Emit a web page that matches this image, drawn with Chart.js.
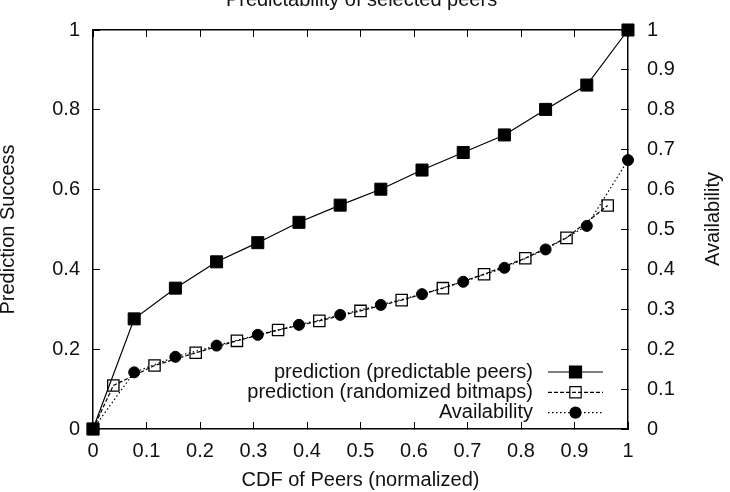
<!DOCTYPE html>
<html>
<head>
<meta charset="utf-8">
<title>Predictability of selected peers</title>
<script src="https://cdn.jsdelivr.net/npm/chart.js"></script>
<style>
  html, body { margin: 0; padding: 0; background: #fff; }
  #wrap { width: 730px; height: 492px; }
</style>
</head>
<body>
<div id="wrap"><canvas id="peersChart" width="730" height="492"></canvas></div>
<script>
// data
const peerCdf = [0, 0.077, 0.154, 0.231, 0.308, 0.385, 0.462, 0.538, 0.615, 0.692, 0.769, 0.846, 0.923, 1];
const predictableSuccess = [0, 0.276, 0.353, 0.419, 0.467, 0.518, 0.561, 0.601, 0.649, 0.693, 0.737, 0.801, 0.862, 1];
const randomizedCdf = [0, 0.038, 0.115, 0.192, 0.269, 0.346, 0.423, 0.5, 0.577, 0.654, 0.731, 0.808, 0.885, 0.962];
const randomizedSuccess = [0, 0.109, 0.159, 0.191, 0.221, 0.248, 0.271, 0.296, 0.323, 0.353, 0.388, 0.428, 0.479, 0.560];
const availability = [0, 0.142, 0.181, 0.209, 0.236, 0.261, 0.286, 0.311, 0.338, 0.369, 0.404, 0.450, 0.509, 0.674];

const seriesNames = ['prediction (predictable peers)', 'prediction (randomized bitmaps)', 'Availability'];

const xTicks = [0, 0.1, 0.2, 0.3, 0.4, 0.5, 0.6, 0.7, 0.8, 0.9, 1];
const xTickLabels = ['0', '0.1', '0.2', '0.3', '0.4', '0.5', '0.6', '0.7', '0.8', '0.9', '1'];
const leftTicks = [0, 0.2, 0.4, 0.6, 0.8, 1];
const leftTickLabels = ['0', '0.2', '0.4', '0.6', '0.8', '1'];
const rightTicks = [0, 0.1, 0.2, 0.3, 0.4, 0.5, 0.6, 0.7, 0.8, 0.9, 1];
const rightTickLabels = ['0', '0.1', '0.2', '0.3', '0.4', '0.5', '0.6', '0.7', '0.8', '0.9', '1'];

const chartTitle = 'Predictability of selected peers';
const xTitle = 'CDF of Peers (normalized)';
const leftTitle = 'Prediction Success';
const rightTitle = 'Availability';

const ink = '#111';
const fontFamily = "'Liberation Sans', Arial, Helvetica, sans-serif";
const tickFont = { family: fontFamily, size: 20 };

function toPoints(xs, ys) {
    return xs.map((x, i) => ({ x: x, y: ys[i] }));
}

// gnuplot style axis: ticks pointing into the plot, no grid
function axis(position, values, labels, size, padding, showLabels) {
    return {
        type: 'linear',
        position: position,
        min: 0,
        max: 1,
        afterBuildTicks: s => { s.ticks = values.map(v => ({ value: v })); },
        afterFit: s => {
            if (s.isHorizontal()) s.height = size;
            else s.width = size;
            // fixed box sizes, so no extra room for label overflow
            s.paddingTop = 0;
            s.paddingBottom = 0;
            s.paddingLeft = 0;
            s.paddingRight = 0;
        },
        ticks: {
            display: showLabels,
            padding: padding,
            autoSkip: false,
            maxRotation: 0,
            color: ink,
            font: tickFont,
            callback: (v, i) => labels[i]
        },
        grid: { drawOnChartArea: false, drawTicks: true, tickLength: -7, color: '#000', lineWidth: 1 },
        border: { display: true, color: '#000', width: 1.5 }
    };
}

const xAxis = axis('bottom', xTicks, xTickLabels, 63, 17, true);
xAxis.title = { display: true, text: xTitle, color: ink, font: tickFont, padding: { top: 0, bottom: 0 } };
const topAxis = axis('top', xTicks, xTickLabels, 30, 0, false);
const leftAxis = axis('left', leftTicks, leftTickLabels, 93, 20, true);
leftAxis.title = { display: true, text: leftTitle, color: ink, font: { family: fontFamily, size: 20, lineHeight: 1 }, padding: { top: -2, bottom: 0 } };
const rightAxis = axis('right', rightTicks, rightTickLabels, 102, 26, true);

const extraText = {
    id: 'extraText',
    afterDraw(chart) {
        const ctx = chart.ctx;
        const area = chart.chartArea;
        ctx.save();
        ctx.font = '20px ' + fontFamily;
        ctx.fillStyle = ink;
        ctx.textAlign = 'center';
        ctx.textBaseline = 'alphabetic';
        ctx.fillText(chartTitle, (area.left + area.right) / 2 + 1, 6);

        ctx.save();
        ctx.translate(713, 219);
        ctx.rotate(-Math.PI / 2);
        ctx.textBaseline = 'middle';
        ctx.fillText(rightTitle, 0, 0);
        ctx.restore();

        // key, bottom right like gnuplot
        chart.data.datasets.forEach((ds, i) => {
            const y = 372 + i * 20.3;
            ctx.textAlign = 'right';
            ctx.textBaseline = 'middle';
            ctx.fillStyle = ink;
            ctx.fillText(ds.label, 533, y);

            ctx.beginPath();
            ctx.setLineDash(ds.borderDash || []);
            ctx.lineWidth = ds.borderWidth;
            ctx.strokeStyle = ds.borderColor;
            ctx.moveTo(548, y);
            ctx.lineTo(603, y);
            ctx.stroke();
            ctx.setLineDash([]);

            ctx.fillStyle = ds.pointBackgroundColor;
            ctx.strokeStyle = ds.pointBorderColor;
            Chart.helpers.drawPoint(ctx, {
                pointStyle: ds.pointStyle,
                radius: ds.pointRadius,
                rotation: 0,
                borderWidth: ds.pointBorderWidth
            }, 575.5, y);
        });
        ctx.restore();
    }
};

const ctx = document.getElementById('peersChart').getContext('2d');
const peersChart = new Chart(ctx, {
    type: 'line',
    data: {
        datasets: [{
            label: seriesNames[0],
            data: toPoints(peerCdf, predictableSuccess),
            yAxisID: 'y',
            borderColor: '#000',
            borderWidth: 1.2,
            pointStyle: 'rect',
            pointRadius: 8.5,
            pointBackgroundColor: '#000',
            pointBorderColor: '#000',
            pointBorderWidth: 1,
            order: 3,
            clip: false
        }, {
            label: seriesNames[1],
            data: toPoints(randomizedCdf, randomizedSuccess),
            yAxisID: 'y',
            borderColor: '#000',
            borderWidth: 1.2,
            borderDash: [4, 2],
            pointStyle: 'rect',
            pointRadius: 8,
            pointBackgroundColor: 'rgba(0,0,0,0)',
            pointBorderColor: '#000',
            pointBorderWidth: 1.3,
            order: 2,
            clip: false
        }, {
            label: seriesNames[2],
            data: toPoints(peerCdf, availability),
            yAxisID: 'y2',
            borderColor: '#000',
            borderWidth: 1.2,
            borderDash: [1.5, 2.5],
            pointStyle: 'circle',
            pointRadius: 5.5,
            pointBackgroundColor: '#000',
            pointBorderColor: '#000',
            pointBorderWidth: 1,
            order: 1,
            clip: false
        }]
    },
    options: {
        responsive: false,
        animation: false,
        layout: { padding: 0 },
        plugins: {
            legend: { display: false },
            tooltip: { enabled: false }
        },
        scales: {
            x: xAxis,
            x2: topAxis,
            y: leftAxis,
            y2: rightAxis
        }
    },
    plugins: [extraText]
});
</script>
</body>
</html>
